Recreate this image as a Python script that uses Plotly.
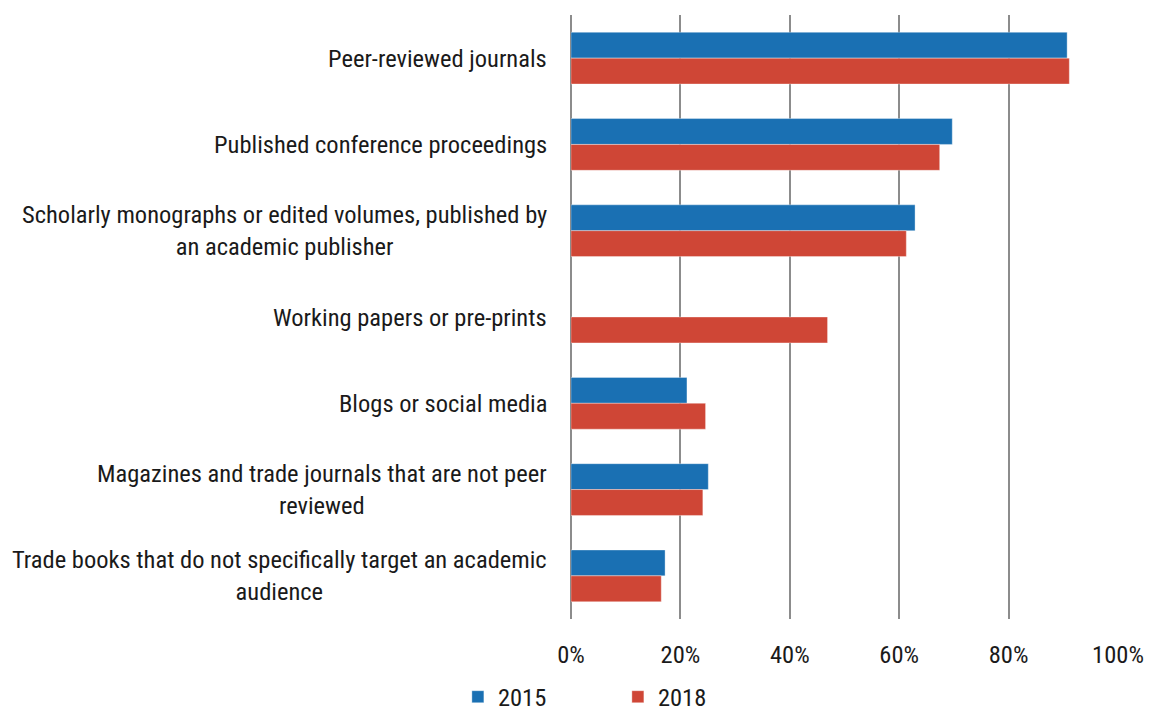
import plotly.graph_objects as go

categories = [
    "Peer-reviewed journals",
    "Published conference proceedings",
    "Scholarly monographs or edited volumes, published by<br>an academic publisher",
    "Working papers or pre-prints",
    "Blogs or social media",
    "Magazines and trade journals that are not peer<br>reviewed",
    "Trade books that do not specifically target an academic<br>audience",
]
values_2015 = [90.7, 69.7, 62.9, None, 21.2, 25.1, 17.2]
values_2018 = [91.1, 67.4, 61.3, 46.9, 24.6, 24.1, 16.5]
x_ticks = [0, 20, 40, 60, 80, 100]
x_tick_labels = ["0%", "20%", "40%", "60%", "80%", "100%"]

FONT = "Roboto Condensed, Roboto, sans-serif"
FS = 24.5
BLUE = "#1a70b3"
RED = "#cf4636"
GRID = "#8c8c8c"
TXT = "#1a1a1a"

fig = go.Figure()
fig.add_trace(go.Bar(
    name="2015", y=categories, x=values_2015, orientation="h",
    marker=dict(color=BLUE, line=dict(color="rgba(255,255,255,0.35)", width=1)),
))
fig.add_trace(go.Bar(
    name="2018", y=categories, x=values_2018, orientation="h",
    marker=dict(color=RED, line=dict(color="rgba(255,255,255,0.35)", width=1)),
))

# category labels: centred multi-line text, right edge next to the axis
for cat in categories:
    fig.add_annotation(
        x=0, xref="paper", y=cat, yref="y", text=cat, showarrow=False,
        xanchor="right", yanchor="middle", align="center", xshift=-22,
        font=dict(family=FONT, size=FS, color=TXT),
    )

fig.update_layout(
    width=1149, height=711,
    margin=dict(l=571, r=31, t=15, b=92, autoexpand=False),
    paper_bgcolor="white", plot_bgcolor="white",
    barmode="group", bargap=0.4, bargroupgap=0,
    font=dict(family=FONT, size=FS, color=TXT),
    showlegend=True,
    legend=dict(
        orientation="h", x=0.3985, xanchor="left", xref="container",
        y=0.02, yanchor="middle", yref="container",
        font=dict(family=FONT, size=FS, color=TXT),
        traceorder="normal", entrywidth=115, entrywidthmode="pixels",
    ),
    xaxis=dict(
        range=[0, 100], tickvals=x_ticks, ticktext=x_tick_labels,
        showgrid=True, gridcolor=GRID, gridwidth=2,
        zeroline=True, zerolinecolor=GRID, zerolinewidth=2,
        showline=False, ticks="", ticklabelstandoff=18, automargin=False,
        fixedrange=True,
    ),
    yaxis=dict(
        autorange="reversed", showgrid=False, zeroline=False, showline=False,
        ticks="", showticklabels=False, fixedrange=True, automargin=False,
    ),
)

fig.write_html(
    "out.html",
    config={"displayModeBar": False},
    post_script="document.body.style.margin='0';",
)
